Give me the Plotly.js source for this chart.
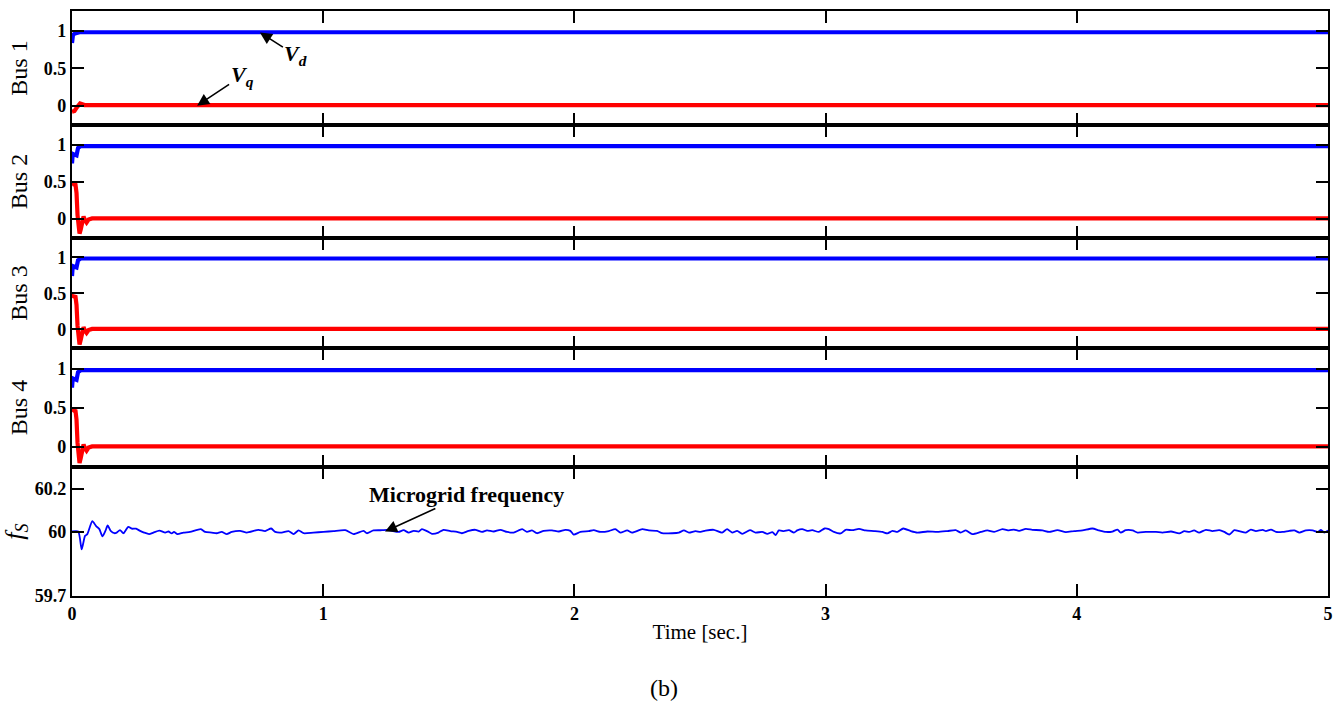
<!DOCTYPE html>
<html>
<head>
<meta charset="utf-8">
<script src="https://cdn.plot.ly/plotly-3.0.1.min.js"></script>
<style>html,body{margin:0;padding:0;background:#fff;}#chart{width:1342px;height:705px;}</style>
</head>
<body>
<div id="chart"></div>
<script>
// ---- Data ----
const busLabels = ["Bus 1", "Bus 2", "Bus 3", "Bus 4"];
const voltTickVals = [0, 0.5, 1];
const voltTickText = ["0", "0.5", "1"];
const freqTickVals = [59.7, 60, 60.2];
const freqTickText = ["59.7", "60", "60.2"];
const timeTickVals = [0, 1, 2, 3, 4, 5];
const timeTickText = ["0", "1", "2", "3", "4", "5"];

// Bus 1
const tBus1Vd = [0, 0.004, 0.012, 0.03, 5];
const bus1Vd  = [0.84, 0.95, 0.97, 0.985, 0.985];
const tBus1Vq = [0, 0.01, 0.02, 0.032, 0.05, 5];
const bus1Vq  = [-0.08, -0.07, -0.02, 0.03, 0.008, 0.008];

// Bus 2
const tBus2Vd = [0, 0.003, 0.01, 0.018, 0.024, 0.035, 5];
const bus2Vd  = [0.75, 0.88, 0.87, 0.86, 0.96, 0.985, 0.985];
const tBus2Vq = [0, 0.004, 0.014, 0.018, 0.022, 0.026, 0.03, 0.035, 0.04, 0.046, 0.052, 0.058, 0.066, 0.08, 5];
const bus2Vq  = [0.45, 0.47, 0.46, 0.35, 0.05, -0.15, -0.2, -0.14, -0.03, 0.03, -0.02, -0.05, -0.01, 0.005, 0.005];

// Bus 3
const tBus3Vd = [0, 0.003, 0.01, 0.018, 0.024, 0.035, 5];
const bus3Vd  = [0.74, 0.88, 0.87, 0.86, 0.96, 0.985, 0.985];
const tBus3Vq = [0, 0.004, 0.014, 0.018, 0.022, 0.026, 0.03, 0.035, 0.04, 0.046, 0.052, 0.058, 0.066, 0.08, 5];
const bus3Vq  = [0.44, 0.46, 0.45, 0.34, 0.05, -0.15, -0.21, -0.14, -0.03, 0.03, -0.02, -0.05, -0.01, 0.005, 0.005];

// Bus 4
const tBus4Vd = [0, 0.003, 0.01, 0.018, 0.024, 0.035, 5];
const bus4Vd  = [0.76, 0.88, 0.87, 0.86, 0.96, 0.985, 0.985];
const tBus4Vq = [0, 0.004, 0.014, 0.018, 0.022, 0.026, 0.03, 0.035, 0.04, 0.046, 0.052, 0.058, 0.066, 0.08, 5];
const bus4Vq  = [0.45, 0.47, 0.46, 0.35, 0.05, -0.15, -0.21, -0.14, -0.03, 0.03, -0.02, -0.05, -0.01, 0.005, 0.005];

// Microgrid frequency
const tFreq = [0, 0.025, 0.0385, 0.052, 0.061, 0.081, 0.096, 0.109, 0.121, 0.133, 0.142, 0.154, 0.169, 0.178, 0.191, 0.205, 0.224, 0.238, 0.255, 0.271, 0.287, 0.307, 0.324, 0.348, 0.371, 0.384, 0.397, 0.406, 0.420, 0.444, 0.470, 0.513, 0.530, 0.556, 0.576, 0.596, 0.616, 0.636, 0.669, 0.696, 0.742, 0.769, 0.793, 0.809, 0.835, 0.862, 0.882, 0.902, 0.922, 0.961, 1.001, 1.041, 1.088, 1.121, 1.161, 1.174, 1.200, 1.234,
  1.254, 1.274, 1.300, 1.320, 1.340, 1.360, 1.380, 1.393, 1.413, 1.433, 1.459, 1.479, 1.506, 1.533, 1.552, 1.579, 1.606, 1.632, 1.652, 1.679, 1.705, 1.732, 1.758, 1.792, 1.811, 1.831, 1.851, 1.878, 1.911, 1.938, 1.964, 1.984, 1.997, 2.024, 2.057, 2.077, 2.104, 2.137, 2.163, 2.183, 2.210, 2.230, 2.270, 2.296, 2.329, 2.349, 2.389, 2.416, 2.436, 2.456, 2.482, 2.502,
  2.522, 2.555, 2.588, 2.608, 2.628, 2.648, 2.668, 2.699, 2.721, 2.748, 2.768, 2.788, 2.801, 2.814, 2.834, 2.854, 2.874, 2.887, 2.907, 2.927, 2.947, 2.973, 2.996, 3.013, 3.033, 3.060, 3.080, 3.106, 3.133, 3.159, 3.193, 3.226, 3.246, 3.266, 3.286, 3.309, 3.339, 3.365, 3.405, 3.445, 3.485, 3.518, 3.538, 3.558, 3.584, 3.618, 3.644, 3.671, 3.704, 3.730, 3.750, 3.770,
  3.797, 3.823, 3.863, 3.890, 3.923, 3.956, 3.989, 4.023, 4.062, 4.089, 4.116, 4.142, 4.162, 4.175, 4.195, 4.222, 4.242, 4.275, 4.315, 4.341, 4.375, 4.408, 4.428, 4.448, 4.467, 4.487, 4.514, 4.540, 4.567, 4.587, 4.607, 4.627, 4.647, 4.673, 4.693, 4.713, 4.740, 4.753, 4.773, 4.793, 4.819, 4.846, 4.866, 4.886, 4.912, 4.939, 4.959, 4.972, 4.985, 5.0];
const freq = [60, 60, 59.917, 59.980, 59.988, 60.048, 60.025, 60.011, 59.977, 60.003, 60.028, 60.003, 59.992, 59.995, 60.006, 59.992, 60.022, 60.013, 60.013, 60.003, 59.995, 59.988, 59.995, 60.004, 59.995, 60.000, 59.991, 59.998, 59.988, 59.995, 59.998, 60.011, 59.998, 59.995, 59.992, 59.998, 59.988, 59.998, 60.003, 59.995, 60.008, 60.002, 60.014, 59.998, 59.995, 60.002, 59.988, 60.005, 59.992, 59.995, 59.998, 60.002, 60.006, 59.988, 60.003, 59.992, 60.005, 60.006,
  60.008, 60.003, 59.998, 60.006, 59.995, 60.003, 60.000, 60.011, 60.002, 59.989, 59.995, 60.008, 60.002, 59.998, 59.992, 60.003, 60.008, 59.998, 60.005, 60.000, 60.008, 59.998, 59.995, 60.011, 59.998, 60.005, 59.992, 60.003, 60.005, 60.000, 60.008, 60.003, 59.986, 59.998, 60.002, 60.006, 59.998, 60.002, 60.011, 59.995, 60.005, 59.995, 60.011, 60.005, 60.003, 59.992, 59.992, 59.995, 60.005, 59.995, 60.002, 59.998,
  60.004, 60.008, 59.995, 60.011, 59.995, 60.003, 59.989, 60.006, 59.995, 59.998, 59.989, 59.997, 59.983, 60.005, 60.002, 60.006, 59.995, 60.005, 60.011, 60.003, 60.006, 59.998, 60.014, 60.011, 59.998, 59.991, 60.008, 60.006, 60.012, 60.005, 60.002, 59.998, 59.991, 60.003, 59.998, 60.014, 60.002, 59.995, 60.000, 59.998, 60.002, 60.006, 59.995, 60.005, 59.988, 59.998, 60.005, 59.998, 60.011, 60.005, 60.009, 60.003,
  60.012, 60.008, 60.005, 59.998, 60.006, 59.997, 60.002, 60.005, 60.014, 60.005, 59.998, 60.000, 60.009, 59.995, 60.006, 60.005, 59.995, 59.998, 59.998, 59.995, 60.000, 59.991, 60.002, 59.998, 60.005, 59.995, 60.008, 60.002, 60.006, 59.998, 59.986, 60.006, 60.002, 59.995, 60.009, 60.002, 60.008, 60.002, 60.009, 59.998, 59.998, 60.003, 60.005, 59.995, 60.005, 60.005, 59.998, 60.008, 59.995, 60.005];

// ---- Styling ----
const SERIF = "Liberation Serif, Times New Roman, serif";
const BLUE = "#0000ff";
const RED = "#ff0000";
const VW = 4.2;

const busT = [[tBus1Vd, bus1Vd, tBus1Vq, bus1Vq], [tBus2Vd, bus2Vd, tBus2Vq, bus2Vq], [tBus3Vd, bus3Vd, tBus3Vq, bus3Vq], [tBus4Vd, bus4Vd, tBus4Vq, bus4Vq]];

const traces = [];
busT.forEach((b, i) => {
  const ax = i === 0 ? "" : String(i + 1);
  traces.push({x: b[0], y: b[1], xaxis: "x" + ax, yaxis: "y" + ax, mode: "lines", line: {color: BLUE, width: VW}, hoverinfo: "skip"});
  traces.push({x: b[2], y: b[3], xaxis: "x" + ax, yaxis: "y" + ax, mode: "lines", line: {color: RED, width: VW}, hoverinfo: "skip"});
});
traces.push({x: tFreq, y: freq, xaxis: "x5", yaxis: "y5", mode: "lines", line: {color: BLUE, width: 1.8, shape: "spline", smoothing: 0.6}, hoverinfo: "skip"});

// Plot area: top 11px, bottom 596px (585px high)
const domains = [[0.805, 1.0], [0.612, 0.805], [0.4239, 0.612], [0.2205, 0.4239], [0, 0.2205]];

const tickFont = {family: SERIF, size: 18, color: "#000", weight: "bold"};
const arrowStyle = {showarrow: true, arrowhead: 2, arrowsize: 1.5, arrowwidth: 1.6, arrowcolor: "#000", standoff: 0};
const layout = {
  width: 1342, height: 705,
  margin: {l: 72, r: 14, t: 11, b: 109},
  paper_bgcolor: "#fff", plot_bgcolor: "#fff",
  showlegend: false,
  font: {family: SERIF, color: "#000"},
  annotations: [
    Object.assign({xref: "x", yref: "y", x: 0.748, y: 0.982, ax: 36, ay: 23, text: "<b><i>V<sub>d</sub></i></b>", font: {family: SERIF, size: 22, color: "#000"}}, arrowStyle),
    Object.assign({xref: "x", yref: "y", x: 0.498, y: 0.0, ax: 45, ay: -30, text: "<b><i>V<sub>q</sub></i></b>", font: {family: SERIF, size: 22, color: "#000"}}, arrowStyle),
    Object.assign({xref: "x5", yref: "y5", x: 1.246, y: 60.0, ax: 81, ay: -37, text: "<b>Microgrid frequency</b>", font: {family: SERIF, size: 22, color: "#000"}}, arrowStyle),
    {xref: "paper", yref: "paper", x: 0.4714, y: -0.157, text: "(b)", showarrow: false, xanchor: "center", yanchor: "middle", font: {family: SERIF, size: 24, color: "#000"}}
  ]
};

for (let i = 0; i < 5; i++) {
  const s = i === 0 ? "" : String(i + 1);
  const isFreq = i === 4;
  const xa = {
    domain: [0, 1], range: [0, 5], anchor: "y" + s,
    tickvals: timeTickVals, ticktext: timeTickText,
    showticklabels: isFreq, ticks: "inside", ticklen: 12, tickwidth: 2, tickcolor: "#000",
    showline: true, linewidth: 2.2, linecolor: "#000", mirror: "ticks",
    showgrid: false, zeroline: false, fixedrange: true,
    tickfont: tickFont
  };
  if (isFreq) xa.title = {text: "Time [sec.]", font: {family: SERIF, size: 21, color: "#000"}, standoff: 2};
  if (i > 0) xa.matches = "x";
  layout["xaxis" + s] = xa;
  layout["yaxis" + s] = {
    domain: domains[i], anchor: "x" + s,
    range: isFreq ? [59.7, 60.3] : [-0.26, 1.27],
    tickvals: isFreq ? freqTickVals : voltTickVals,
    ticktext: isFreq ? freqTickText : voltTickText,
    ticks: "inside", ticklen: 12, tickwidth: 2, tickcolor: "#000",
    showline: true, linewidth: 2.2, linecolor: "#000", mirror: "ticks",
    showgrid: false, zeroline: false, fixedrange: true,
    tickfont: tickFont,
    title: isFreq ? {text: "<i>f<sub>S</sub></i>", font: {family: SERIF, size: 26, color: "#000"}, standoff: 12}
                  : {text: busLabels[i], font: {family: SERIF, size: 24, color: "#000"}, standoff: 9}
  };
}

Plotly.newPlot("chart", traces, layout, {displayModeBar: false, staticPlot: true});
</script>
</body>
</html>
